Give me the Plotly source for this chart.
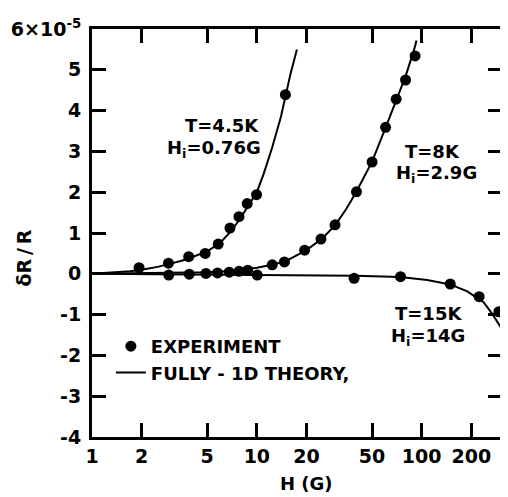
import numpy as np
import plotly.graph_objects as go

# ---------------- data (units of 1e-5) ----------------
# experiment points
exp45_H = [1.93, 2.91, 3.86, 4.86, 5.83, 6.87, 7.79, 8.74, 9.96, 14.9]
exp45_y = [0.15, 0.26, 0.42, 0.50, 0.73, 1.12, 1.40, 1.72, 1.94, 4.39]

exp8_H = [6.8, 7.8, 8.8, 12.4, 14.7, 19.5, 24.5, 29.8, 40.2, 50.0, 60.4, 70.0, 79.8, 91.2]
exp8_y = [0.04, 0.06, 0.09, 0.22, 0.29, 0.58, 0.85, 1.20, 2.01, 2.74, 3.59, 4.28, 4.75, 5.34]

exp15_H = [2.92, 3.89, 4.91, 5.77, 10.05, 38.9, 74.4, 149, 223, 294]
exp15_y = [-0.03, -0.01, 0.01, 0.02, -0.03, -0.11, -0.07, -0.25, -0.56, -0.93]

# theory curves
th45_H = [1, 1.5, 1.7, 2, 2.5, 3, 3.5, 4, 5, 6, 7, 8, 9, 10, 11, 12.4, 14, 15, 16, 17.5]
th45_y = [0.0, 0.04, 0.06, 0.1, 0.17, 0.25, 0.32, 0.4, 0.55, 0.76, 1.05, 1.38, 1.70, 2.0, 2.45, 3.1, 3.85, 4.4, 4.9, 5.5]

th8_H = [1, 2, 3, 5, 7, 9, 10, 12.4, 15, 20, 25, 30, 35, 40, 50, 60, 70, 80, 90, 93]
th8_y = [0.0, 0.01, 0.02, 0.04, 0.07, 0.12, 0.15, 0.22, 0.31, 0.58, 0.87, 1.2, 1.6, 2.0, 2.75, 3.55, 4.25, 4.85, 5.5, 5.72]

th15_H = [1, 3, 10, 27, 40, 74, 108, 149, 189, 238, 270, 307]
th15_y = [0.0, -0.01, -0.03, -0.04, -0.05, -0.08, -0.15, -0.26, -0.43, -0.70, -1.0, -1.36]

x_tickvals = [1, 2, 5, 10, 20, 50, 100, 200]
x_ticktext = ["1", "2", "5", "10", "20", "50", "100", "200"]
y_tickvals = [-4, -3, -2, -1, 0, 1, 2, 3, 4, 5, 6]
y_ticktext = ["-4", "-3", "-2", "-1", "0", "1", "2", "3", "4", "5", "6×10<sup>-5</sup>"]

# ---------------- figure ----------------
FONT = "DejaVu Sans"
OFF = 8                      # page body margin
W, H = 500, 489
ml, mr, mt, mb = 92 - OFF, 3, 29 - OFF, 60
pw, ph = W - ml - mr, H - mt - mb


def px(xp):  # reference-window pixel -> paper
    return (xp - OFF - ml) / pw


def py(yp):
    return (H - mb - (yp - OFF)) / ph


fig = go.Figure()

mk = dict(color="black", size=11)
ln = dict(color="black", width=2)

fig.add_trace(go.Scatter(x=exp45_H, y=exp45_y, mode="markers", marker=mk,
                         name="EXPERIMENT", legendgroup="a", showlegend=True))
fig.add_trace(go.Scatter(x=th45_H, y=th45_y, mode="lines", line=ln,
                         name="FULLY - 1D THEORY,", legendgroup="b", showlegend=True))
fig.add_trace(go.Scatter(x=th8_H, y=th8_y, mode="lines", line=ln, showlegend=False))
fig.add_trace(go.Scatter(x=th15_H, y=th15_y, mode="lines", line=ln, showlegend=False))
fig.add_trace(go.Scatter(x=exp8_H, y=exp8_y, mode="markers", marker=mk, showlegend=False))
fig.add_trace(go.Scatter(x=exp15_H, y=exp15_y, mode="markers", marker=mk, showlegend=False))

axis_common = dict(
    showline=True, linecolor="black", linewidth=3, mirror="ticks",
    ticks="inside", ticklen=14, tickwidth=2.5, tickcolor="black",
    showgrid=False, zeroline=False,
    tickfont=dict(family=FONT, size=19, color="black", weight="bold"),
)

fig.update_xaxes(type="log", range=[0, np.log10(307)],
                 tickvals=x_tickvals, ticktext=x_ticktext, **axis_common)
fig.update_yaxes(range=[-4, 6], tickvals=y_tickvals, ticktext=y_ticktext,
                 ticklabelstandoff=4, **axis_common)

ann_font = dict(family=FONT, size=18, color="black", weight="bold")
annotations = [
    dict(text="T=4.5K", x=px(223), y=py(125)),
    dict(text="H<sub>i</sub>=0.76G", x=px(215), y=py(149)),
    dict(text="T=8K", x=px(435), y=py(151)),
    dict(text="H<sub>i</sub>=2.9G", x=px(439), y=py(174)),
    dict(text="T=15K", x=px(431), y=py(313)),
    dict(text="H<sub>i</sub>=14G", x=px(430), y=py(337)),
    dict(text="H (G)", x=px(308), y=py(483)),
]
for a in annotations:
    a.update(xref="paper", yref="paper", showarrow=False, font=ann_font,
             xanchor="center", yanchor="middle")
annotations.append(dict(text="δR\u2009/\u2009R", x=px(23), y=py(258), xref="paper", yref="paper",
                        showarrow=False, textangle=-90,
                        font=dict(family=FONT, size=19, color="black", weight="bold"),
                        xanchor="center", yanchor="middle"))

fig.update_layout(
    width=W, height=H,
    margin=dict(l=ml, r=mr, t=mt, b=mb),
    paper_bgcolor="white", plot_bgcolor="white",
    font=dict(family=FONT, color="black"),
    annotations=annotations,
    legend=dict(x=px(111), y=py(328), xanchor="left", yanchor="top",
                bgcolor="rgba(0,0,0,0)", borderwidth=0,
                font=dict(family=FONT, size=18, color="black", weight="bold"),
                tracegroupgap=10, traceorder="normal"),
)

fig.write_html("out.html")
